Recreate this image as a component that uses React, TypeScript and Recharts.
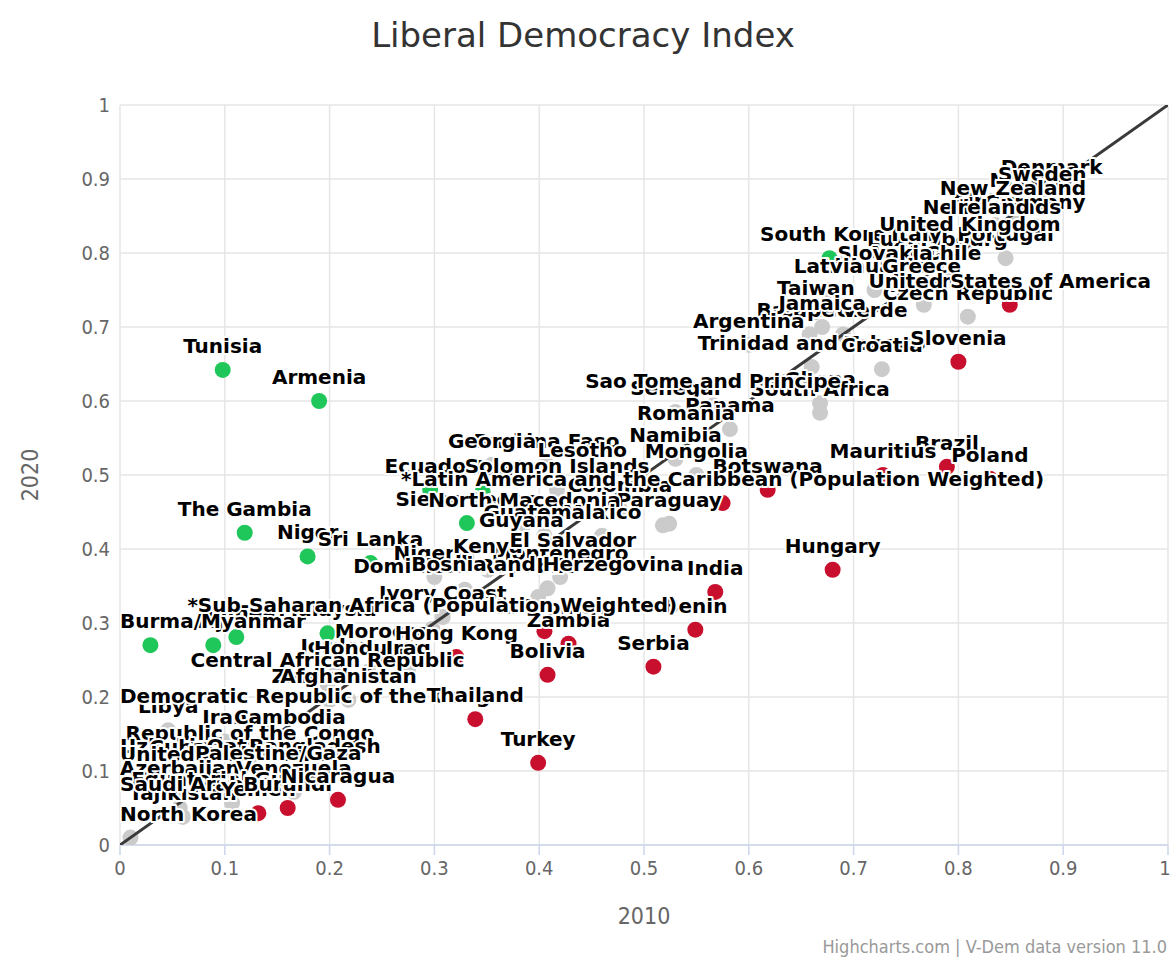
import React from 'react';
import { ScatterChart, Scatter, XAxis, YAxis, CartesianGrid } from 'recharts';

// ─── Data (V-Dem Liberal Democracy Index, 2010 vs 2020) ─────────────────────

const AXIS_TICKS = [0, 0.1, 0.2, 0.3, 0.4, 0.5, 0.6, 0.7, 0.8, 0.9, 1];

// significant improvement
const improvedNames = [
  'Fiji', 'Guinea', 'Burma/Myanmar', 'Malaysia', 'Tunisia', 'Armenia', 'The Gambia',
  'Niger', 'Sri Lanka', 'Malawi', 'Sierra Leone', 'Ecuador', 'South Korea',
];
const improved2010 = [0.089, 0.111, 0.029, 0.198, 0.098, 0.19, 0.119, 0.179, 0.239, 0.346, 0.331, 0.296, 0.677];
const improved2020 = [0.27, 0.281, 0.27, 0.286, 0.642, 0.6, 0.422, 0.39, 0.381, 0.477, 0.435, 0.48, 0.793];

// no significant change
const unchangedNames = [
  'Norway', 'Denmark', 'Sweden', 'Finland', 'Germany', 'New Zealand', 'Netherlands', 'Ireland',
  'Luxembourg', 'Italy', 'Portugal', 'United Kingdom', 'Austria', 'Chile', 'Slovakia',
  'Lithuania', 'Latvia', 'Greece', 'Japan', 'Czech Republic', 'Barbados', 'Cape Verde', 'Taiwan',
  'Jamaica', 'Argentina', 'Trinidad and Tobago', 'Croatia', 'Ghana', 'Senegal', 'South Africa',
  'Sao Tome and Principe', 'Panama', 'Romania', 'Namibia', 'Burkina Faso', 'Georgia', 'Lesotho',
  'Mongolia', 'Solomon Islands', 'Colombia', 'Paraguay', 'North Macedonia', 'Indonesia', 'Mexico',
  'Guatemala', 'Guyana', 'Nigeria', 'Montenegro', 'Kenya', 'El Salvador', 'Dominican Republic',
  'Bosnia and Herzegovina', 'Ukraine', 'Ivory Coast', '*Sub-Saharan Africa (Population Weighted)',
  'Morocco', 'Jordan', 'Honduras', 'Iraq', 'Central African Republic', 'Zimbabwe', 'Afghanistan',
  'Libya', 'Iran', 'Cambodia', 'Democratic Republic of the Congo', 'Republic of the Congo',
  'Uzbekistan', 'Cuba', 'Qatar', 'Bangladesh', 'United Arab Emirates', 'Palestine/Gaza',
  'Azerbaijan', 'Venezuela', 'Tajikistan', 'Equatorial Guinea', 'Saudi Arabia', 'North Korea',
];
const unchanged2010 = [
  0.87, 0.889, 0.88, 0.835, 0.873, 0.852, 0.832, 0.83,
  0.78, 0.76, 0.845, 0.811, 0.752, 0.795, 0.73,
  0.72, 0.676, 0.765, 0.767, 0.809, 0.658, 0.69, 0.664,
  0.67, 0.6, 0.66, 0.727, 0.668, 0.53, 0.668,
  0.566, 0.582, 0.54, 0.53, 0.407, 0.355, 0.441,
  0.55, 0.417, 0.477, 0.524, 0.386, 0.518, 0.46,
  0.405, 0.383, 0.3, 0.42, 0.351, 0.432, 0.329,
  0.408, 0.399, 0.308, 0.298,
  0.25, 0.207, 0.237, 0.275, 0.198, 0.2, 0.218,
  0.046, 0.1, 0.162, 0.14, 0.124,
  0.03, 0.055, 0.113, 0.186, 0.09, 0.151,
  0.057, 0.166, 0.06, 0.107, 0.057, 0.01,
];
const unchanged2020 = [
  0.866, 0.884, 0.874, 0.838, 0.836, 0.855, 0.83, 0.83,
  0.786, 0.793, 0.793, 0.807, 0.768, 0.768, 0.768,
  0.75, 0.75, 0.75, 0.73, 0.714, 0.69, 0.69, 0.72,
  0.70, 0.676, 0.646, 0.643, 0.597, 0.585, 0.584,
  0.594, 0.562, 0.551, 0.522, 0.514, 0.514, 0.501,
  0.50, 0.48, 0.454, 0.434, 0.434, 0.432, 0.418,
  0.418, 0.407, 0.362, 0.362, 0.372, 0.38, 0.345,
  0.347, 0.335, 0.308, 0.292,
  0.257, 0.236, 0.234, 0.234, 0.218, 0.196, 0.196,
  0.155, 0.14, 0.14, 0.169, 0.119,
  0.101, 0.10, 0.101, 0.101, 0.09, 0.092,
  0.072, 0.072, 0.038, 0.057, 0.05, 0.01,
];

// significant decline
const declinedNames = [
  'Brazil', 'Mauritius', 'Poland', 'Botswana', '*Latin America and the Caribbean (Population Weighted)',
  'United States of America', 'Slovenia', 'Hungary', 'India', 'Philippines', 'Zambia', 'Benin',
  'Hong Kong', 'Serbia', 'Bolivia', 'Thailand', 'Turkey', 'Yemen', 'Burundi', 'Nicaragua',
];
const declined2010 = [0.789, 0.728, 0.83, 0.618, 0.575, 0.849, 0.80, 0.68, 0.568, 0.405, 0.428, 0.549, 0.321, 0.509, 0.408, 0.339, 0.399, 0.132, 0.16, 0.208];
const declined2020 = [0.511, 0.50, 0.495, 0.48, 0.462, 0.73, 0.653, 0.372, 0.342, 0.289, 0.272, 0.291, 0.254, 0.241, 0.23, 0.17, 0.111, 0.043, 0.05, 0.061];

const unlabeled = ['Indonesia', 'Ukraine'];

const diagonal = [{ x: 0, y: 0 }, { x: 1, y: 1 }];

// ─── helpers ──────────────────────────────────────────────────────────────────

const W = 1170;
const H = 959;
const PLOT = { left: 120, right: 1168, top: 105, bottom: 845 };

const COLORS = { improved: '#1fc75a', unchanged: '#cbcbcb', declined: '#c8102e' };

interface Pt { name: string; x: number; y: number }

const zip = (names: string[], xs: number[], ys: number[]): Pt[] =>
  names.map((name, i) => ({ name, x: xs[i], y: ys[i] }));

const improved  = zip(improvedNames, improved2010, improved2020);
const unchanged = zip(unchangedNames, unchanged2010, unchanged2020);
const declined  = zip(declinedNames, declined2010, declined2020);

// regional aggregates sit on top of every other label
const labels = [...improved, ...unchanged, ...declined]
  .filter((p) => !unlabeled.includes(p.name))
  .sort((a, b) => Number(a.name.startsWith('*')) - Number(b.name.startsWith('*')));

const LABEL_FONT = 'bold 20px "DejaVu Sans"';
let measureCtx: CanvasRenderingContext2D | null = null;
function textWidth(s: string): number {
  if (!measureCtx) measureCtx = document.createElement('canvas').getContext('2d');
  if (!measureCtx) return s.length * 12;
  measureCtx.font = LABEL_FONT;
  return measureCtx.measureText(s).width;
}

const dot = (fill: string) => (props: any) =>
  props.cx == null ? <g /> : <circle cx={props.cx} cy={props.cy} r={8} fill={fill} />;

function CountryLabel(props: any) {
  const { cx, cy, payload } = props;
  if (cx == null || !payload) return <g />;
  const w = textWidth(payload.name);
  // keep label inside the plot area, like highcharts does
  const left = Math.max(PLOT.left, Math.min(cx - w / 2, PLOT.right - w));
  return (
    <text
      x={left}
      y={cy - 17}
      fontFamily="DejaVu Sans, sans-serif"
      fontWeight="bold"
      fontSize={20}
      fill="#000"
      stroke="#fff"
      strokeWidth={4}
      strokeLinejoin="round"
      paintOrder="stroke"
    >
      {payload.name}
    </text>
  );
}

const noShape = () => <g />;

const TICK_FONT = "'Liberation Sans Narrow', 'DejaVu Sans Condensed', 'DejaVu Sans', sans-serif";

// ─── App ──────────────────────────────────────────────────────────────────────

export default function App() {
  return (
    <div style={{ position: 'absolute', left: 0, top: 0, width: W, height: H, background: '#fff' }}>
      <ScatterChart
        width={W}
        height={H}
        margin={{ top: PLOT.top, right: W - PLOT.right, bottom: H - PLOT.bottom - 50, left: PLOT.left - 60 }}
      >
        <CartesianGrid stroke="#e6e6e6" strokeWidth={1.5} />
        <XAxis
          type="number"
          dataKey="x"
          domain={[0, 1]}
          ticks={AXIS_TICKS}
          height={50}
          tickSize={10}
          tickMargin={6}
          axisLine={{ stroke: '#ccd6eb', strokeWidth: 1.5 }}
          tickLine={{ stroke: '#ccd6eb', strokeWidth: 1.5 }}
          tick={{ fill: '#666', fontSize: 20, fontFamily: TICK_FONT, style: { fontStretch: 'condensed' } }}
          tickFormatter={(v: number) => String(v)}
          allowDataOverflow
        />
        <YAxis
          type="number"
          dataKey="y"
          domain={[0, 1]}
          ticks={AXIS_TICKS}
          width={60}
          tickSize={0}
          tickMargin={10}
          axisLine={false}
          tickLine={false}
          tick={{ fill: '#666', fontSize: 20, fontFamily: TICK_FONT, style: { fontStretch: 'condensed' } }}
          tickFormatter={(v: number) => String(v)}
          allowDataOverflow
        />
        <Scatter data={improved} shape={dot(COLORS.improved)} isAnimationActive={false} />
        <Scatter data={unchanged} shape={dot(COLORS.unchanged)} isAnimationActive={false} />
        <Scatter data={declined} shape={dot(COLORS.declined)} isAnimationActive={false} />
        <Scatter
          data={diagonal}
          line={{ stroke: '#3a3a3a', strokeWidth: 3 }}
          lineType="joint"
          shape={noShape}
          isAnimationActive={false}
        />
        <Scatter data={labels} shape={CountryLabel} isAnimationActive={false} />
      </ScatterChart>

      <svg width={W} height={H} style={{ position: 'absolute', left: 0, top: 0, pointerEvents: 'none', fontStretch: 'condensed' }}>
        <text x={583} y={47} textAnchor="middle" fontFamily="DejaVu Sans, sans-serif" fontSize={34} fill="#333" style={{ fontStretch: 'normal' }}>
          Liberal Democracy Index
        </text>
        <text x={644} y={924} textAnchor="middle" fontFamily={TICK_FONT} fontSize={23} fill="#666">
          2010
        </text>
        <text
          transform="translate(38 475) rotate(-90)"
          textAnchor="middle"
          fontFamily={TICK_FONT}
          fontSize={23}
          fill="#666"
        >
          2020
        </text>
        <text x={1167} y={953} textAnchor="end" fontFamily={TICK_FONT} fontSize={18} fill="#999">
          Highcharts.com | V-Dem data version 11.0
        </text>
      </svg>
    </div>
  );
}
